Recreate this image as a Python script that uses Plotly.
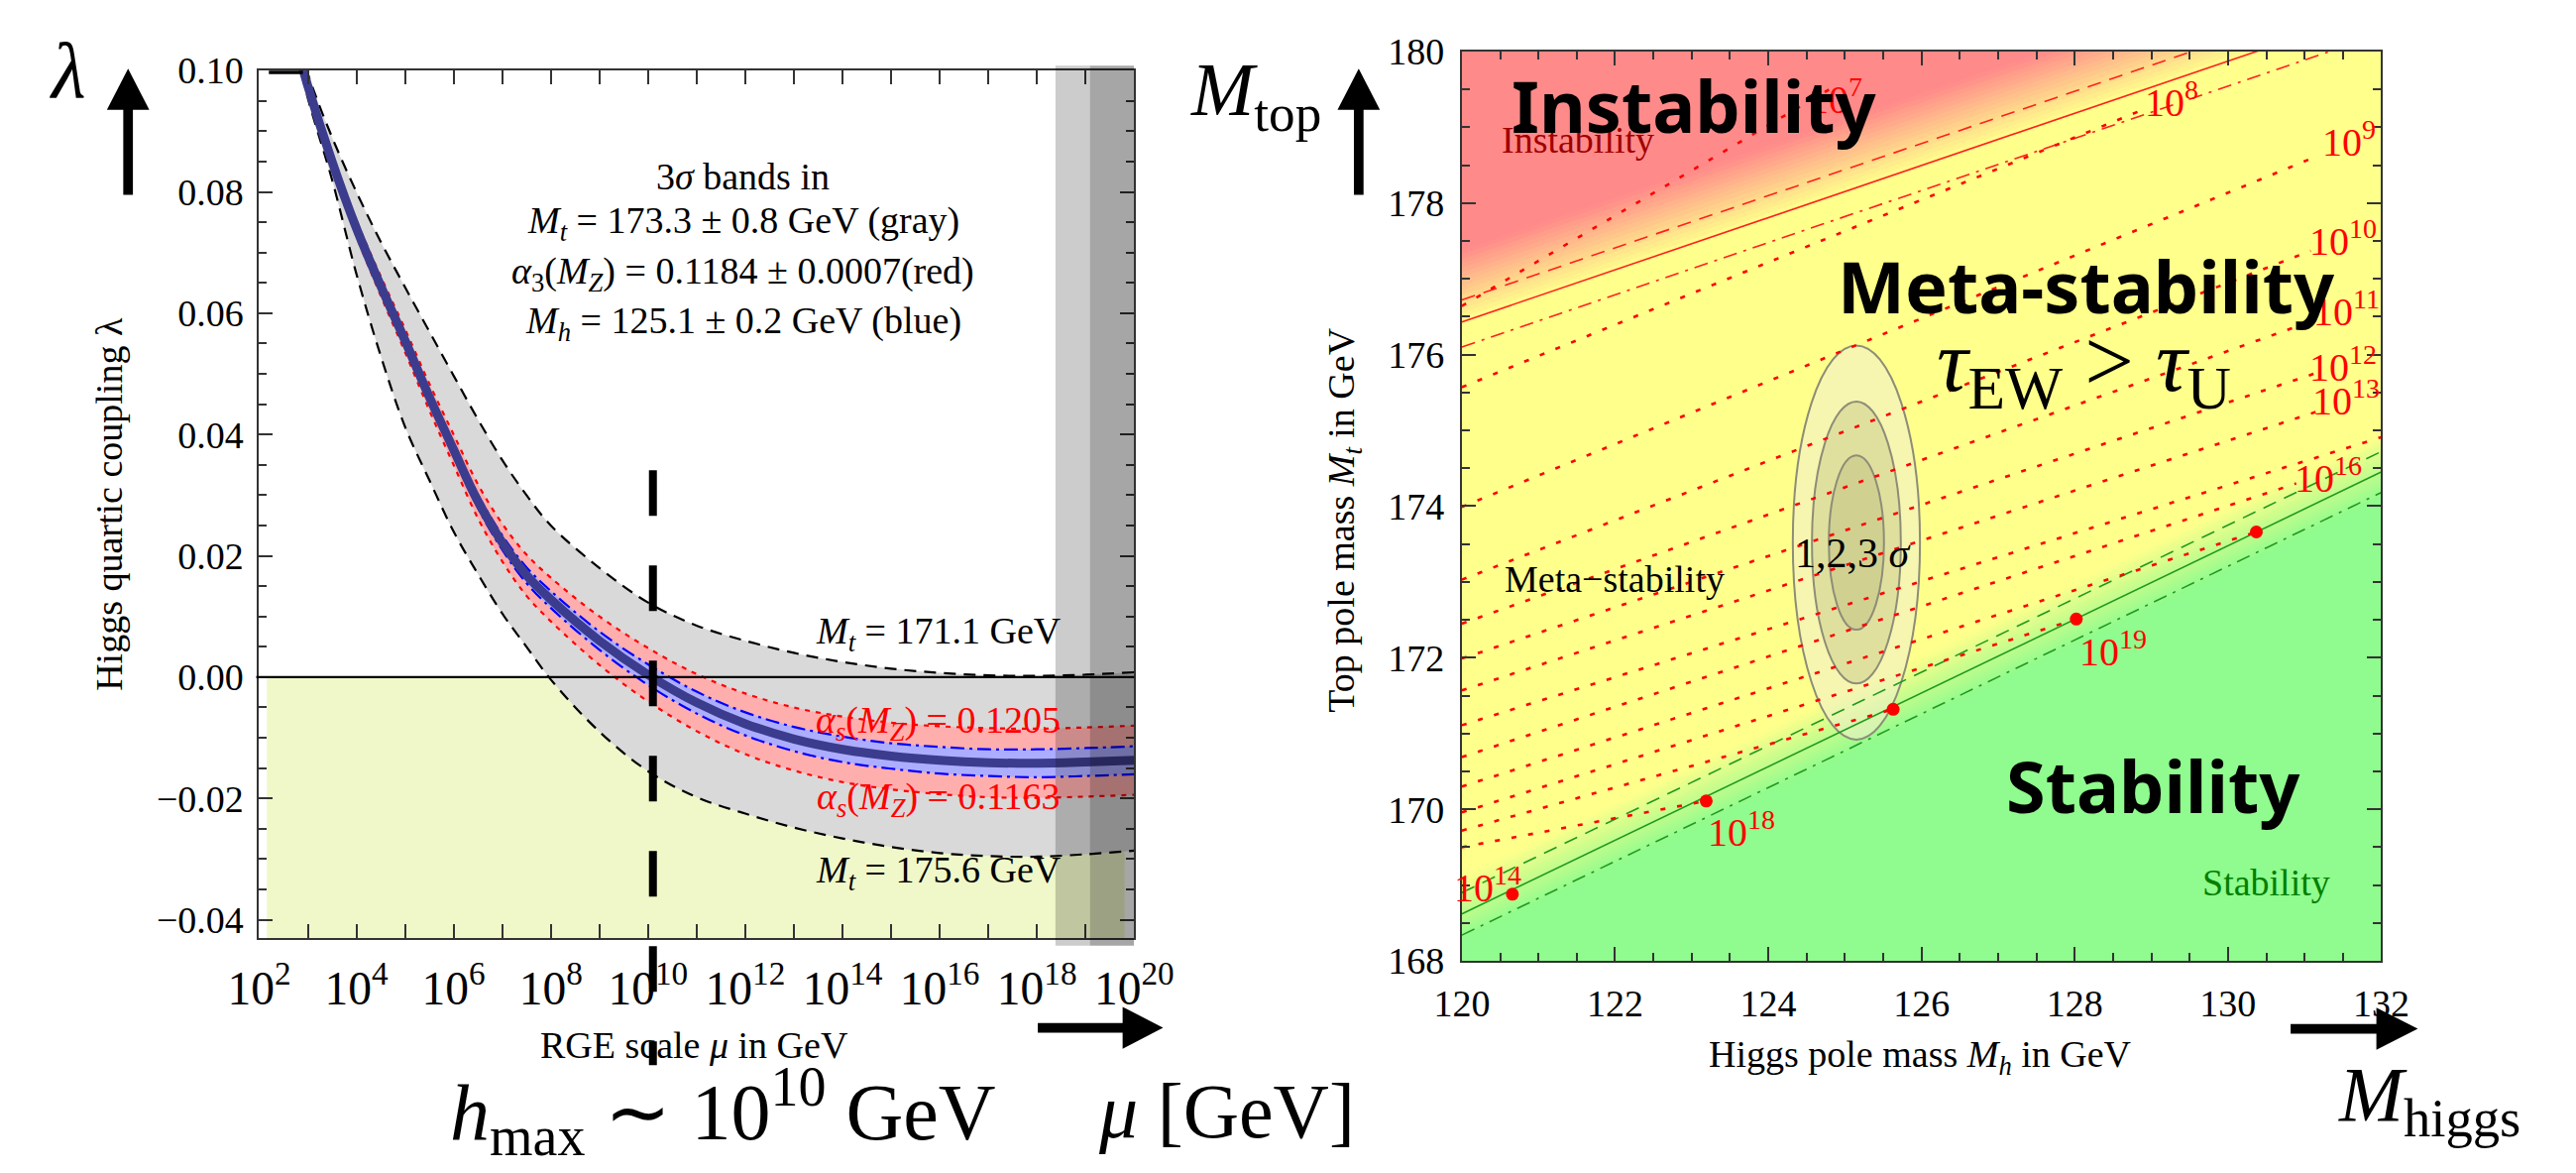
import plotly.graph_objects as go

W, H = 2599, 1183
SERIF = "Liberation Serif"
SANS = "Noto Sans"


def px(x):
    return x / W


def py(y):
    return 1 - y / H


# ---------------- data: left panel (running of lambda) ----------------
log_mu = [2.5, 3.0, 3.5, 4.0, 4.5, 5.0, 5.5, 6.0, 6.5, 7.0, 7.5, 8.0, 9.0, 10.0,
          11.0, 12.0, 13.0, 14.0, 15.0, 16.0, 17.0, 18.0, 19.0, 20.0]
lam_central = [0.1120, 0.0975, 0.0850, 0.0740, 0.0645, 0.0555, 0.0462, 0.0375, 0.0290, 0.0222,
               0.0168, 0.0128, 0.0060, 0.0004, -0.0042, -0.0077, -0.0102, -0.0119, -0.0130,
               -0.0137, -0.0141, -0.0142, -0.0140, -0.0137]
lam_blue_up = [0.1123, 0.0979, 0.0855, 0.0746, 0.0652, 0.0563, 0.0471, 0.0385, 0.0301, 0.0234,
               0.0181, 0.0142, 0.0075, 0.0021, -0.0024, -0.0058, -0.0082, -0.0098, -0.0109,
               -0.0115, -0.0119, -0.0119, -0.0117, -0.0114]
lam_blue_dn = [0.1117, 0.0971, 0.0845, 0.0734, 0.0638, 0.0547, 0.0453, 0.0365, 0.0279, 0.0210,
               0.0155, 0.0114, 0.0045, -0.0013, -0.0060, -0.0096, -0.0122, -0.0140, -0.0151,
               -0.0159, -0.0163, -0.0165, -0.0163, -0.0160]
lam_red_up = [0.1127, 0.0984, 0.0861, 0.0753, 0.0661, 0.0574, 0.0484, 0.0400, 0.0318, 0.0253,
              0.0202, 0.0164, 0.0100, 0.0048, 0.0005, -0.0027, -0.0050, -0.0065, -0.0075,
              -0.0081, -0.0084, -0.0085, -0.0083, -0.0080]
lam_red_dn = [0.1113, 0.0966, 0.0839, 0.0727, 0.0629, 0.0536, 0.0440, 0.0350, 0.0262, 0.0191,
              0.0134, 0.0092, 0.0020, -0.0040, -0.0089, -0.0127, -0.0154, -0.0173, -0.0185,
              -0.0193, -0.0198, -0.0199, -0.0197, -0.0194]
lam_gray_up = [0.1130, 0.0995, 0.0890, 0.0800, 0.0718, 0.0643, 0.0570, 0.0497, 0.0425, 0.0358,
               0.0300, 0.0250, 0.0180, 0.0123, 0.0085, 0.0060, 0.0040, 0.0025, 0.0014,
               0.0007, 0.0003, 0.0002, 0.0004, 0.0008]
lam_gray_dn = [0.1120, 0.0955, 0.0820, 0.0665, 0.0530, 0.0413, 0.0325, 0.0240, 0.0170, 0.0105,
               0.0050, -0.0004, -0.0090, -0.0155, -0.0198, -0.0225, -0.0248, -0.0266, -0.0280,
               -0.0290, -0.0295, -0.0296, -0.0292, -0.0286]
top_flat_logmu = [2.2, 2.9]
top_flat_lam = [0.0998, 0.0998]
hmax_logmu = 10.1
planck_red_logmu = 18.38
planck_logmu = 19.09

# ---------------- data: right panel (phase diagram) ----------------
bound_mh = [120.0, 132.0]
inst_mt = [176.43, 180.56]
inst_dash_mt = [176.72, 180.85]
inst_dashdot_mt = [176.10, 180.23]
stab_mt = [168.62, 174.45]
stab_dash_mt = [168.90, 174.72]
stab_dashdot_mt = [168.34, 174.18]

contour_mh = [
    [120.0, 124.88],
    [120.0, 128.96],
    [120.0, 131.12],
    [120.0, 131.08],
    [120.0, 131.12],
    [120.0, 131.16],
    [120.0, 131.20],
    [120.0, 132.00],
    [120.0, 130.89],
    [120.0, 130.37],
    [120.0, 128.02],
    [120.0, 125.63],
    [120.0, 123.19],
]
contour_mt = [
    [176.64, 179.55],
    [175.57, 179.26],
    [173.99, 178.60],
    [173.03, 177.37],
    [172.45, 176.45],
    [171.99, 175.76],
    [171.57, 175.26],
    [171.11, 174.91],
    [170.69, 174.30],
    [170.30, 173.66],
    [169.96, 172.51],
    [169.72, 171.32],
    [169.50, 170.11],
]
dot_mh = [120.66, 123.19, 125.63, 128.02, 130.37]
dot_mt = [168.88, 170.11, 171.32, 172.51, 173.66]

meas_mh, meas_mt = 125.15, 173.52
ell_r_mh = [0.83, 0.58, 0.36]
ell_r_mt = [2.60, 1.86, 1.15]

contour_labels = ["7", "8", "9", "10", "11", "12", "13", "16", "19", "18", "14"]
contour_label_px = [(1872, 79), (2221, 82), (2405, 124), (2398, 228), (2402, 301),
                    (2398, 359), (2402, 395), (2383, 475), (2160, 657), (1774, 846), (1511, 904)]

# ---------------- figure ----------------
fig = go.Figure()
L = dict(xaxis="x", yaxis="y")
R = dict(xaxis="x2", yaxis="y2")
mu = [10.0 ** v for v in log_mu]


def band(lo, hi, color):
    fig.add_trace(go.Scatter(x=mu, y=lo, mode="lines", line=dict(width=0, shape="spline"),
                             showlegend=False, hoverinfo="skip", **L))
    fig.add_trace(go.Scatter(x=mu, y=hi, mode="lines", line=dict(width=0, shape="spline"),
                             fill="tonexty", fillcolor=color, showlegend=False,
                             hoverinfo="skip", **L))


band(lam_gray_dn, lam_gray_up, "#d9d9d9")
band(lam_red_dn, lam_red_up, "#ffaeae")
band(lam_blue_dn, lam_blue_up, "#adadff")

for arr, col, dash in [(lam_gray_up, "black", "12px,8px"), (lam_gray_dn, "black", "12px,8px"),
                       (lam_red_up, "red", "5px,6px"), (lam_red_dn, "red", "5px,6px"),
                       (lam_blue_up, "blue", "14px,5px,3px,5px"),
                       (lam_blue_dn, "blue", "14px,5px,3px,5px")]:
    fig.add_trace(go.Scatter(x=mu, y=arr, mode="lines",
                             line=dict(color=col, width=2.2, dash=dash, shape="spline"),
                             showlegend=False, **L))
fig.add_trace(go.Scatter(x=mu, y=lam_central, mode="lines",
                         line=dict(color="#3c3c8e", width=9, shape="spline"),
                         showlegend=False, **L))
fig.add_trace(go.Scatter(x=[10.0 ** v for v in top_flat_logmu], y=top_flat_lam, mode="lines",
                         line=dict(color="black", width=5), showlegend=False, **L))

# right panel lines
for arr, col, dash in [(inst_mt, "#ff2020", "solid"), (inst_dash_mt, "#ff2020", "14px,9px"),
                       (inst_dashdot_mt, "#ff2020", "14px,7px,3px,7px"),
                       (stab_mt, "#1f9a1f", "solid"), (stab_dash_mt, "#1f9a1f", "14px,9px"),
                       (stab_dashdot_mt, "#1f9a1f", "14px,7px,3px,7px")]:
    fig.add_trace(go.Scatter(x=bound_mh, y=arr, mode="lines",
                             line=dict(color=col, width=1.6, dash=dash),
                             showlegend=False, **R))
for cx, cy in zip(contour_mh, contour_mt):
    fig.add_trace(go.Scatter(x=cx, y=cy, mode="lines",
                             line=dict(color="red", width=2.6, dash="5px,12px"),
                             showlegend=False, **R))
fig.add_trace(go.Scatter(x=dot_mh, y=dot_mt, mode="markers",
                         marker=dict(color="red", size=13), showlegend=False, **R))

shapes = []
# left: instability fill below lambda = 0
shapes.append(dict(type="rect", xref="paper", yref="y", x0=px(244), x1=px(1134),
                   y0=-0.043, y1=0.0, fillcolor="#f0f8c9", line=dict(width=0), layer="below"))
# left: planck bands
shapes.append(dict(type="rect", xref="x", yref="paper", x0=10.0 ** planck_red_logmu,
                   x1=10.0 ** planck_logmu, y0=py(967), y1=py(47),
                   fillcolor="rgba(0,0,0,0.2)", line=dict(width=0), layer="above"))
shapes.append(dict(type="rect", xref="x", yref="paper", x0=10.0 ** planck_logmu,
                   x1=10.0 ** 20, y0=py(967), y1=py(47),
                   fillcolor="rgba(0,0,0,0.35)", line=dict(width=0), layer="above"))
# left: zero line
shapes.append(dict(type="line", xref="paper", yref="y", x0=px(233), x1=px(1144), y0=0, y1=0,
                   line=dict(color="black", width=2.2), layer="above"))
# left: h_max dashed line
shapes.append(dict(type="line", xref="x", yref="paper", x0=10.0 ** hmax_logmu,
                   x1=10.0 ** hmax_logmu, y0=py(470), y1=py(1092),
                   line=dict(color="black", width=8, dash="46px,50px"), layer="above"))

# right: background
RED = (255, 138, 138)
YEL = (255, 255, 140)
GRN = (144, 251, 142)


def mix(c1, c2, t):
    return "rgb(%d,%d,%d)" % tuple(round(a + (b - a) * t) for a, b in zip(c1, c2))


def strip(base, lo, hi, color):
    p = "M%.3f,%.3f L%.3f,%.3f L%.3f,%.3f L%.3f,%.3f Z" % (
        bound_mh[0], base[0] + lo, bound_mh[1], base[1] + lo,
        bound_mh[1], base[1] + hi, bound_mh[0], base[0] + hi)
    shapes.append(dict(type="path", xref="x2", yref="y2", path=p, fillcolor=color,
                       line=dict(width=0), layer="below"))


shapes.append(dict(type="rect", xref="x2 domain", yref="y2 domain", x0=0, x1=1, y0=0, y1=1,
                   fillcolor=mix(YEL, YEL, 0), line=dict(width=0), layer="below"))
n = 16
r_lo, r_hi = 0.0, 0.95
for k in range(n):
    a = r_lo + (r_hi - r_lo) * k / n
    b = r_lo + (r_hi - r_lo) * (k + 1) / n
    strip(inst_mt, a, b + 0.01, mix(YEL, RED, (k + 0.5) / n))
strip(inst_mt, r_hi, 20, mix(RED, RED, 0))
g_lo, g_hi = -0.35, 0.5
for k in range(n):
    a = g_hi - (g_hi - g_lo) * (k + 1) / n
    b = g_hi - (g_hi - g_lo) * k / n
    strip(stab_mt, a - 0.01, b, mix(YEL, GRN, (k + 0.5) / n))
strip(stab_mt, -20, g_lo, mix(GRN, GRN, 0))

ell_fill = ["rgba(240,240,200,0.6)", "rgba(170,170,110,0.28)", "rgba(170,170,110,0.28)"]
for rx, ry, fc in zip(ell_r_mh, ell_r_mt, ell_fill):
    shapes.append(dict(type="circle", xref="x2", yref="y2", x0=meas_mh - rx, x1=meas_mh + rx,
                       y0=meas_mt - ry, y1=meas_mt + ry, fillcolor=fc,
                       line=dict(color="#8d8d78", width=2), layer="below"))


# arrows (decorative)
def up_arrow(cx, tip, base, tail):
    p = "M{a},{t} L{a},{b} L{c},{b} L{m},{tp} L{d},{b} L{e},{b} L{e},{t} Z".format(
        a=px(cx - 5), e=px(cx + 5), c=px(cx - 22), d=px(cx + 22), m=px(cx),
        t=py(tail), b=py(base), tp=py(tip))
    shapes.append(dict(type="path", xref="paper", yref="paper", path=p, fillcolor="black",
                       line=dict(width=0), layer="above"))


def right_arrow(x0, xb, x1, cy):
    p = "M{a},{u} L{b},{u} L{b},{U} L{c},{m} L{b},{D} L{b},{d} L{a},{d} Z".format(
        a=px(x0), b=px(xb), c=px(x1), u=py(cy - 5), d=py(cy + 5), U=py(cy - 22),
        D=py(cy + 22), m=py(cy))
    shapes.append(dict(type="path", xref="paper", yref="paper", path=p, fillcolor="black",
                       line=dict(width=0), layer="above"))


up_arrow(100, 50, 93, 182)
up_arrow(1377, 50, 93, 182)
right_arrow(1044, 1132, 1174, 1053)
right_arrow(2344, 2433, 2476, 1054)

ann = []


def text(x, y, s, size=38, color="black", family=SERIF, angle=0, xanchor="center"):
    ann.append(dict(x=px(x), y=py(y), xref="paper", yref="paper", text=s, showarrow=False,
                    font=dict(family=family, size=size, color=color), textangle=angle,
                    xanchor=xanchor, yanchor="middle"))


# left panel texts
text(38, 52, "<i>λ</i>", size=80)
text(80, 505, "Higgs quartic coupling λ", size=38, angle=-90)
text(688, 1071, "RGE scale <i>μ</i> in GeV", size=38)
text(717, 1140, "<i>h</i><sub>max</sub> ∼ 10<sup>10</sup> GeV", size=80)
text(1240, 1140, "<i>μ</i> [GeV]", size=78)
text(738, 163, "3<i>σ</i> bands in", size=38)
text(738, 212, "<i>M<sub>t</sub></i> = 173.3 ± 0.8 GeV (gray)", size=38)
text(738, 264, "<i>α</i><sub>3</sub>(<i>M<sub>Z</sub></i>) = 0.1184 ± 0.0007(red)", size=38)
text(738, 316, "<i>M<sub>h</sub></i> = 125.1 ± 0.2 GeV (blue)", size=38)
text(941, 641, "<i>M<sub>t</sub></i> = 171.1 GeV", size=38)
text(941, 891, "<i>M<sub>t</sub></i> = 175.6 GeV", size=38)
text(941, 734, "<i>α<sub>s</sub></i>(<i>M<sub>Z</sub></i>) = 0.1205", size=38, color="red")
text(941, 814, "<i>α<sub>s</sub></i>(<i>M<sub>Z</sub></i>) = 0.1163", size=38, color="red")

# right panel texts
for lab, (lx, ly) in zip(contour_labels, contour_label_px):
    text(lx, ly, "10<sup>%s</sup>" % lab, size=40, color="red")
text(1270, 78, "<i>M</i><sub>top</sub>", size=76)
text(1362, 522, "Top pole mass <i>M<sub>t</sub></i> in GeV", size=38, angle=-90)
text(1960, 1083, "Higgs pole mass <i>M<sub>h</sub></i> in GeV", size=38)
text(2488, 1128, "<i>M</i><sub>higgs</sub>", size=78)
text(1604, 124, "Instability", size=38, color="#a00000")
text(1643, 584, "Meta−stability", size=38)
text(2319, 901, "Stability", size=38, color="#008000")
text(1890, 557, "1,2,3 <i>σ</i>", size=42)
text(1725, 88, "<b>Instability</b>", size=72, family=SANS)
text(2132, 277, "<b>Meta-stability</b>", size=72, family=SANS)
text(2201, 799, "<b>Stability</b>", size=72, family=SANS)
text(2130, 362, "<i>τ</i><sub>EW</sub> > <i>τ</i><sub>U</sub>", size=88)

axis_common = dict(showgrid=False, zeroline=False, showline=True, linecolor="#333",
                   linewidth=2, mirror="ticks", ticks="inside", ticklen=14, tickwidth=1.5,
                   tickcolor="#333", tickfont=dict(family=SERIF, size=38, color="black"))

fig.update_layout(
    width=W, height=H, margin=dict(l=0, r=0, t=0, b=0),
    paper_bgcolor="white", plot_bgcolor="white", showlegend=False,
    xaxis=dict(type="log", domain=[px(236), px(1144)], range=[2, 20], anchor="y",
               tick0=0, dtick=2, exponentformat="power", showexponent="all",
               minor=dict(dtick=1, ticklen=14, ticks="inside", tickcolor="#333",
                          tickwidth=1.5),
               ticklabelstandoff=10, **axis_common),
    yaxis=dict(domain=[py(959), py(52)], range=[-0.043, 0.100], anchor="x", tick0=0,
               dtick=0.02, tickformat=".2f", ticklabelstandoff=6,
               minor=dict(dtick=0.005, ticklen=8, ticks="inside", tickcolor="#333"),
               **axis_common),
    xaxis2=dict(domain=[px(1484), px(2438)], range=[120, 132], anchor="y2", dtick=2,
                ticklabelstandoff=8,
                minor=dict(dtick=0.5, ticklen=8, ticks="inside", tickcolor="#333"),
                **axis_common),
    yaxis2=dict(domain=[py(983), py(32)], range=[168, 180], anchor="x2", dtick=2,
                ticklabelstandoff=8,
                minor=dict(dtick=0.5, ticklen=8, ticks="inside", tickcolor="#333"),
                **axis_common),
    shapes=shapes, annotations=ann,
)

fig.write_html("out.html")
